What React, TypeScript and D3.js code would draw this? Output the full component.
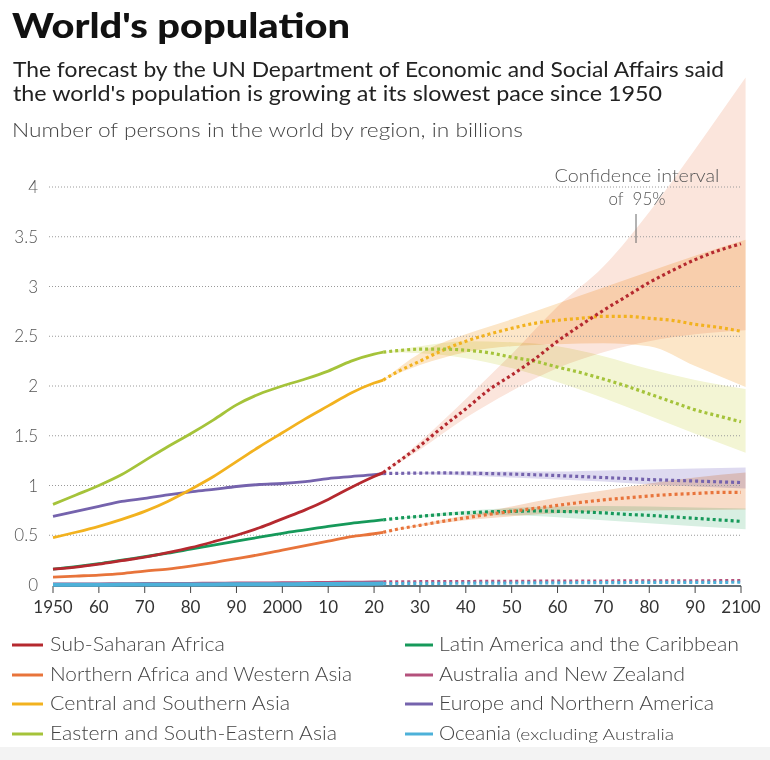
import React from "react";
import * as d3 from "d3";

// ---------- DATA ----------
const histYears = [1950, 1955, 1960, 1965, 1970, 1975, 1980, 1985, 1990, 1995, 2000, 2005, 2010, 2015, 2020, 2022];
const projYears = [2022, 2025, 2030, 2035, 2040, 2045, 2050, 2055, 2060, 2065, 2070, 2075, 2080, 2085, 2090, 2095, 2100];
const bandYears = [2022, 2030, 2040, 2050, 2060, 2070, 2080, 2090, 2101];

const ssaHist = [0.16, 0.18, 0.21, 0.245, 0.28, 0.325, 0.375, 0.435, 0.5, 0.575, 0.665, 0.755, 0.86, 0.98, 1.09, 1.13];
const ssaProj = [1.13, 1.23, 1.4, 1.59, 1.77, 1.96, 2.11, 2.27, 2.45, 2.61, 2.76, 2.9, 3.04, 3.16, 3.27, 3.36, 3.43];
const ssaLo = [1.13, 1.36, 1.68, 1.95, 2.18, 2.34, 2.45, 2.52, 2.56];
const ssaHi = [1.13, 1.44, 1.87, 2.32, 2.8, 3.2, 3.75, 4.38, 5.1];

const nawaHist = [0.08, 0.09, 0.1, 0.115, 0.14, 0.16, 0.19, 0.225, 0.265, 0.305, 0.35, 0.395, 0.44, 0.485, 0.515, 0.53];
const nawaProj = [0.53, 0.56, 0.6, 0.64, 0.675, 0.71, 0.74, 0.77, 0.8, 0.83, 0.855, 0.875, 0.895, 0.91, 0.92, 0.93, 0.93];
const nawaLo = [0.53, 0.59, 0.65, 0.69, 0.72, 0.74, 0.75, 0.755, 0.76];
const nawaHi = [0.53, 0.61, 0.7, 0.79, 0.88, 0.95, 1.02, 1.08, 1.13];

const csaHist = [0.475, 0.53, 0.59, 0.66, 0.74, 0.84, 0.96, 1.09, 1.24, 1.39, 1.53, 1.67, 1.8, 1.93, 2.03, 2.06];
const csaProj = [2.06, 2.14, 2.25, 2.36, 2.45, 2.52, 2.58, 2.63, 2.66, 2.68, 2.7, 2.7, 2.68, 2.66, 2.62, 2.59, 2.55];
const csaLo = [2.06, 2.21, 2.34, 2.4, 2.42, 2.43, 2.4, 2.2, 1.99];
const csaHi = [2.06, 2.33, 2.52, 2.67, 2.83, 2.99, 3.15, 3.31, 3.47];

const eseaHist = [0.81, 0.905, 1.0, 1.11, 1.25, 1.39, 1.52, 1.66, 1.81, 1.92, 2.0, 2.07, 2.15, 2.25, 2.32, 2.34];
const eseaProj = [2.34, 2.355, 2.37, 2.37, 2.36, 2.335, 2.29, 2.25, 2.19, 2.135, 2.07, 2.0, 1.92, 1.84, 1.76, 1.7, 1.64];
const eseaLo = [2.34, 2.33, 2.28, 2.18, 2.04, 1.88, 1.7, 1.52, 1.33];
const eseaHi = [2.34, 2.4, 2.45, 2.44, 2.4, 2.3, 2.17, 2.06, 1.97];

const lacHist = [0.16, 0.185, 0.215, 0.25, 0.285, 0.32, 0.36, 0.4, 0.44, 0.48, 0.52, 0.555, 0.59, 0.62, 0.645, 0.655];
const lacProj = [0.655, 0.67, 0.69, 0.71, 0.725, 0.735, 0.74, 0.745, 0.74, 0.735, 0.725, 0.71, 0.7, 0.685, 0.67, 0.655, 0.64];
const lacLo = [0.655, 0.68, 0.7, 0.7, 0.68, 0.65, 0.62, 0.59, 0.56];
const lacHi = [0.655, 0.7, 0.745, 0.775, 0.79, 0.795, 0.79, 0.78, 0.77];

const anzHist = [0.01, 0.011, 0.012, 0.013, 0.015, 0.016, 0.017, 0.018, 0.02, 0.021, 0.023, 0.024, 0.027, 0.029, 0.03, 0.031];
const anzProj = [0.031, 0.032, 0.033, 0.034, 0.035, 0.036, 0.037, 0.038, 0.039, 0.04, 0.04, 0.041, 0.041, 0.042, 0.042, 0.043, 0.043];

const enaHist = [0.69, 0.74, 0.79, 0.84, 0.87, 0.905, 0.935, 0.96, 0.99, 1.01, 1.02, 1.04, 1.07, 1.09, 1.11, 1.12];
const enaProj = [1.12, 1.122, 1.125, 1.126, 1.125, 1.12, 1.115, 1.108, 1.1, 1.09, 1.08, 1.07, 1.06, 1.052, 1.045, 1.037, 1.03];
const enaLo = [1.12, 1.115, 1.1, 1.08, 1.06, 1.04, 1.01, 0.99, 0.97];
const enaHi = [1.12, 1.13, 1.14, 1.14, 1.14, 1.15, 1.16, 1.17, 1.18];

const ocHist = [0.002, 0.003, 0.003, 0.004, 0.004, 0.005, 0.006, 0.006, 0.007, 0.007, 0.008, 0.009, 0.01, 0.012, 0.013, 0.014];
const ocProj = [0.014, 0.015, 0.016, 0.017, 0.018, 0.019, 0.02, 0.021, 0.022, 0.023, 0.024, 0.025, 0.026, 0.026, 0.027, 0.027, 0.028];

const yTicks = [0.5, 1, 1.5, 2, 2.5, 3, 3.5, 4];
const yTickLabels = ["0", "0.5", "1", "1.5", "2", "2.5", "3", "3.5", "4"];
const yTickValues = [0, 0.5, 1, 1.5, 2, 2.5, 3, 3.5, 4];
const xTicks = [1950, 1960, 1970, 1980, 1990, 2000, 2010, 2020, 2030, 2040, 2050, 2060, 2070, 2080, 2090, 2100];
const xTickLabels = ["1950", "60", "70", "80", "90", "2000", "10", "20", "30", "40", "50", "60", "70", "80", "90", "2100"];

const legendLeft = ["Sub-Saharan Africa", "Northern Africa and Western Asia", "Central and Southern Asia", "Eastern and South-Eastern Asia"];
const legendRight = ["Latin America and the Caribbean", "Australia and New Zealand", "Europe and Northern America", "Oceania"];

// ---------- STYLE ----------
const C: Record<string, string> = {
  ssa: "#b5292f",
  nawa: "#e8743b",
  csa: "#f2b21f",
  esea: "#a5c33a",
  lac: "#16995a",
  anz: "#b4517c",
  ena: "#7563ad",
  oc: "#4db1d9",
};
const FONT = "Lato, 'Open Sans', sans-serif";

type Series = { key: string; hist: number[]; proj: number[]; lo?: number[]; hi?: number[]; band?: string };

const series: Series[] = [
  { key: "anz", hist: anzHist, proj: anzProj },
  { key: "oc", hist: ocHist, proj: ocProj },
  { key: "lac", hist: lacHist, proj: lacProj, lo: lacLo, hi: lacHi, band: "#d8efe2" },
  { key: "nawa", hist: nawaHist, proj: nawaProj, lo: nawaLo, hi: nawaHi, band: "#f8dcc8" },
  { key: "ena", hist: enaHist, proj: enaProj, lo: enaLo, hi: enaHi, band: "#dedaf0" },
  { key: "csa", hist: csaHist, proj: csaProj, lo: csaLo, hi: csaHi, band: "#fce6c8" },
  { key: "esea", hist: eseaHist, proj: eseaProj, lo: eseaLo, hi: eseaHi, band: "#f3f5d4" },
  { key: "ssa", hist: ssaHist, proj: ssaProj, lo: ssaLo, hi: ssaHi, band: "#fbe5dc" },
];

const bandOrder = ["ssa", "csa", "esea", "ena", "nawa", "lac"];

export default function App() {
  const W = 770, H = 760;
  const x = d3.scaleLinear().domain([1950, 2100]).range([53, 741]);
  const y = d3.scaleLinear().domain([0, 4]).range([585, 187]);

  const line = (ys: number[], yrs: number[]) =>
    d3.line<number>().x((_, i) => x(yrs[i])).y((v) => y(v)).curve(d3.curveMonotoneX)(ys) || "";
  const area = (lo: number[], hi: number[]) =>
    d3
      .area<number>()
      .x((_, i) => x(bandYears[i]))
      .y0((_, i) => y(lo[i]))
      .y1((_, i) => y(hi[i]))
      .curve(d3.curveMonotoneX)(lo) || "";

  const byKey: Record<string, Series> = {};
  series.forEach((s) => (byKey[s.key] = s));

  const legendKeysLeft = ["ssa", "nawa", "csa", "esea"];
  const legendKeysRight = ["lac", "anz", "ena", "oc"];
  const legendRows = [651, 681, 710, 740];
  const leftWidths = [175, 302, 240, 287];
  const rightWidths = [300, 246, 275, 72];

  return (
    <svg width={W} height={H} style={{ position: "absolute", left: 0, top: 0, background: "#fff" }} fontFamily={FONT}>
      <rect x={0} y={0} width={W} height={H} fill="#fff" />
      {/* Bands */}
      <g style={{ isolation: "isolate" }}>
        {bandOrder.map((k) => {
          const s = byKey[k];
          return <path key={k} d={area(s.lo!, s.hi!)} fill={s.band} style={{ mixBlendMode: "multiply" }} />;
        })}
      </g>

      {/* Titles */}
      <text x={12} y={38} fontSize={35} fontWeight={900} fill="#111" textLength={338} lengthAdjust="spacingAndGlyphs">
        World's population
      </text>
      <text x={13} y={77} fontSize={21} fill="#222" textLength={711} lengthAdjust="spacingAndGlyphs">
        The forecast by the UN Department of Economic and Social Affairs said
      </text>
      <text x={13} y={101} fontSize={21} fill="#222" textLength={649} lengthAdjust="spacingAndGlyphs">
        the world's population is growing at its slowest pace since 1950
      </text>
      <text x={12} y={137} fontSize={20} fontWeight={300} fill="#444" textLength={511} lengthAdjust="spacingAndGlyphs">
        Number of persons in the world by region, in billions
      </text>

      {/* Gridlines */}
      {yTicks.map((t) => (
        <line key={t} x1={49} x2={740} y1={y(t)} y2={y(t)} stroke="#9a9a9a" strokeWidth={1} strokeDasharray="1 2" />
      ))}
      {/* Y labels */}
      {yTickValues.map((t, i) => (
        <text key={t} x={38} y={y(t) + 6} fontSize={17} fill="#555" textAnchor="end" fontWeight={300}>
          {yTickLabels[i]}
        </text>
      ))}

      {/* Annotation */}
      <text x={637} y={182} fontSize={17} fill="#555" textAnchor="middle" fontWeight={300} textLength={165} lengthAdjust="spacingAndGlyphs">
        Confidence interval
      </text>
      <text x={637} y={205} fontSize={17} fill="#555" textAnchor="middle" fontWeight={300}>
        {"of\u00a0\u00a095%"}
      </text>
      <line x1={636} x2={636} y1={214} y2={243} stroke="#666" strokeWidth={1} />

      {/* Axis */}
      <line x1={x(1950)} x2={x(2100)} y1={y(0) + 1} y2={y(0) + 1} stroke="#2f3f48" strokeWidth={1.5} />
      {xTicks.map((t, i) => (
        <g key={t}>
          <line x1={x(t)} x2={x(t)} y1={y(0) + 1} y2={y(0) + 8} stroke="#444" strokeWidth={1} />
          <text x={x(t)} y={613} fontSize={17} fill="#333" textAnchor="middle">
            {xTickLabels[i]}
          </text>
        </g>
      ))}

      {/* Lines */}
      {series.map((s) => (
        <g key={s.key}>
          <path d={line(s.hist, histYears)} fill="none" stroke={C[s.key]} strokeWidth={s.key === "oc" ? 4 : 2.8} />
          <path d={line(s.proj, projYears)} fill="none" stroke={C[s.key]} strokeWidth={3.2} strokeDasharray="3 3" />
        </g>
      ))}

      {/* Legend */}
      {legendLeft.map((t, i) => (
        <g key={t}>
          <line x1={12} x2={43} y1={legendRows[i] - 6} y2={legendRows[i] - 6} stroke={C[legendKeysLeft[i]]} strokeWidth={3} />
          <text x={50} y={legendRows[i]} fontSize={19} fill="#444" fontWeight={300} textLength={leftWidths[i]} lengthAdjust="spacingAndGlyphs">
            {t}
          </text>
        </g>
      ))}
      {legendRight.map((t, i) => (
        <g key={t}>
          <line x1={405} x2={433} y1={legendRows[i] - 6} y2={legendRows[i] - 6} stroke={C[legendKeysRight[i]]} strokeWidth={3} />
          <text x={439} y={legendRows[i]} fontSize={19} fill="#444" fontWeight={300} textLength={rightWidths[i]} lengthAdjust="spacingAndGlyphs">
            {t}
          </text>
        </g>
      ))}
      <text x={516} y={740} fontSize={16} fill="#444" fontWeight={300} textLength={158} lengthAdjust="spacingAndGlyphs">
        (excluding Australia
      </text>
      <text x={518} y={760} fontSize={16} fill="#444" fontWeight={300}>
        and New Zealand)
      </text>
      <rect x={0} y={747} width={W} height={13} fill="#f3f3f3" />
    </svg>
  );
}
